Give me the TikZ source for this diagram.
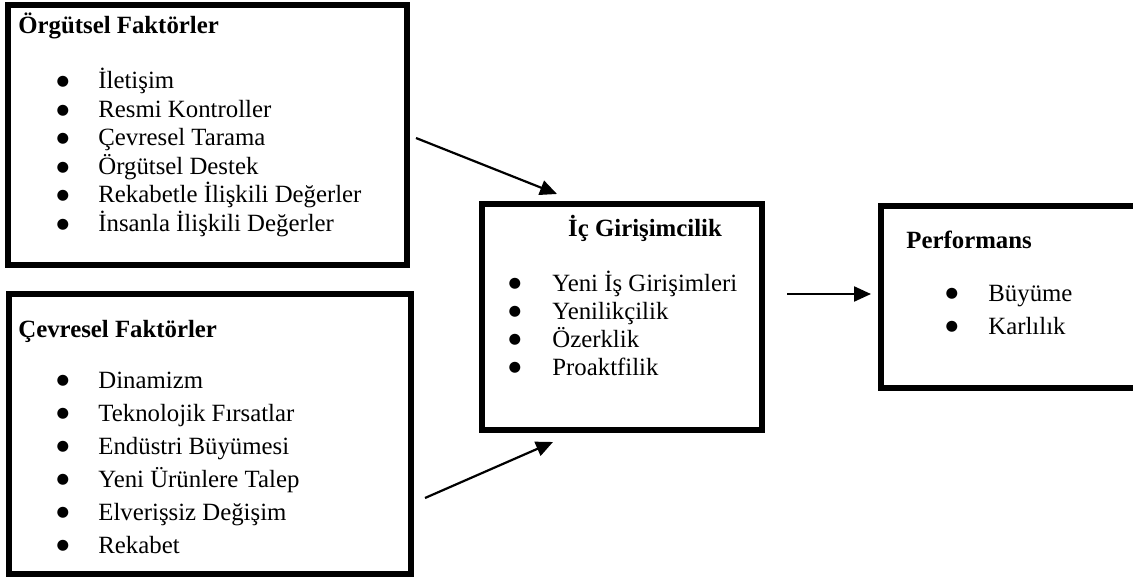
\documentclass[tikz,border=0pt]{standalone}
\usepackage{fontspec}
\setmainfont{Liberation Serif}
\newfontfamily\noktafont{DejaVu Sans}
\usetikzlibrary{arrows.meta,fit,positioning}

\tikzset{
  kutu/.style={draw, line width=2.7pt, inner sep=0pt, outer sep=0pt},
  baslik/.style={font=\fontsize{12.4}{14}\selectfont\bfseries, inner sep=0pt, anchor=base west},
  madde/.style={font=\fontsize{12.4}{14}\selectfont, inner sep=0pt, anchor=base west},
  nokta/.style={font=\noktafont\fontsize{7.2}{8}\selectfont, inner sep=0pt, anchor=center},
  ok/.style={line width=1.1pt, -{Triangle[length=8.5pt,width=7.5pt]}}
}

\begin{document}
\begin{tikzpicture}[x=0.5pt,y=-0.5pt]
\clip (0,0) rectangle (1133,577);
\fill[white] (0,0) rectangle (1133,577);

% kutular
\node[kutu, fit={(8,5) (407,265)}] (orgut) {};
\node[kutu, fit={(9,294) (411,574)}] (cevre) {};
\node[kutu, fit={(482,204) (762,430)}] (icgir) {};
\node[kutu, fit={(881,206) (1140,388)}] (perf) {};

% basliklar
\node[baslik] (orgutB) at (18,34) {Örgütsel Faktörler};
\node[baslik] (cevreB) at (18,337) {Çevresel Faktörler};
\node[baslik, anchor=base] (icgirB) at (645,236) {İç Girişimcilik};
\node[baslik] (perfB) at (906,248) {Performans};

% maddeler
\foreach \t [count=\i from 0] in {İletişim, Resmi Kontroller, Çevresel Tarama, Örgütsel Destek, Rekabetle İlişkili Değerler, İnsanla İlişkili Değerler}{
  \node[nokta] (orgutN\i) at (63,82+28.5*\i) {●};
  \node[madde] (orgutM\i) at (98,89+28.5*\i) {\t};
}
\foreach \t [count=\i from 0] in {Dinamizm, Teknolojik Fırsatlar, Endüstri Büyümesi, Yeni Ürünlere Talep, Elverişsiz Değişim, Rekabet}{
  \node[nokta] (cevreN\i) at (63,381+33*\i) {●};
  \node[madde] (cevreM\i) at (98,388+33*\i) {\t};
}
\foreach \t [count=\i from 0] in {Yeni İş Girişimleri, Yenilikçilik, Özerklik, Proaktfilik}{
  \node[nokta] (icgirN\i) at (515,284+28*\i) {●};
  \node[madde] (icgirM\i) at (552,291+28*\i) {\t};
}
\foreach \t [count=\i from 0] in {Büyüme, Karlılık}{
  \node[nokta] (perfN\i) at (952,294+33*\i) {●};
  \node[madde] (perfM\i) at (988,301+33*\i) {\t};
}

% oklar
\coordinate (ok1a) at (416,138);
\coordinate (ok1b) at (557,194);
\coordinate (ok2a) at (425,498);
\coordinate (ok2b) at (553,442);
\coordinate (ok3a) at (787,294);
\coordinate (ok3b) at (871,294);
\draw[ok] (ok1a) -- (ok1b);
\draw[ok] (ok2a) -- (ok2b);
\draw[ok] (ok3a) -- (ok3b);
\end{tikzpicture}
\end{document}
